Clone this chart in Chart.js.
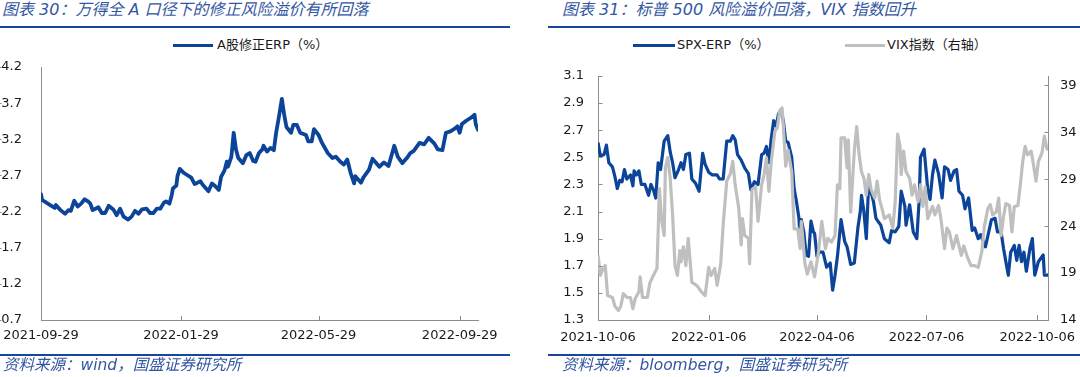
<!DOCTYPE html>
<html><head><meta charset="utf-8">
<script src="https://cdn.jsdelivr.net/npm/chart.js@4.4.0/dist/chart.umd.min.js"></script>
<style>
html,body{margin:0;padding:0;background:#fff;}
body{width:1080px;height:377px;position:relative;overflow:hidden;font-family:"DejaVu Sans","Noto Sans CJK SC",sans-serif;}
.title{position:absolute;top:0px;line-height:20px;font-style:italic;color:#3356A2;font-size:16px;white-space:nowrap;font-family:"DejaVu Sans","Noto Sans CJK SC",sans-serif;}
.rule{position:absolute;height:2px;background:#16479A;}
.src{position:absolute;top:356px;line-height:19px;font-style:italic;color:#3356A2;font-size:15.5px;white-space:nowrap;}
.leg{position:absolute;top:37px;height:16px;line-height:16px;font-size:13px;color:#1a1a1a;white-space:nowrap;}
.sw{position:absolute;height:3px;top:44px;}
canvas{position:absolute;top:0;}
</style>
</head><body>
<div class="title" style="left:2px">图表 30：万得全 A 口径下的修正风险溢价有所回落</div>
<div class="title" style="left:562px">图表 31：标普 500 风险溢价回落，VIX 指数回升</div>
<div class="rule" style="left:0;width:510px;top:26px"></div>
<div class="rule" style="left:548px;width:532px;top:26px"></div>

<div class="sw" style="left:173px;width:40px;background:#0B4499"></div>
<div class="leg" style="left:217px">A股修正ERP（%）</div>
<div class="sw" style="left:633px;width:42px;background:#0B4499"></div>
<div class="leg" style="left:677px">SPX-ERP（%）</div>
<div class="sw" style="left:845px;width:40px;background:#BFBFBF"></div>
<div class="leg" style="left:887px">VIX指数（右轴）</div>

<canvas id="cL" width="510" height="377" style="left:0;width:510px;height:377px"></canvas>
<canvas id="cR" width="540" height="377" style="left:540px;width:540px;height:377px"></canvas>

<div class="rule" style="left:0;width:510px;top:354px"></div>
<div class="rule" style="left:548px;width:532px;top:354px"></div>
<div class="src" style="left:3px">资料来源：wind，国盛证券研究所</div>
<div class="src" style="left:562px">资料来源：bloomberg，国盛证券研究所</div>

<script>
// ---------- Left chart data: A-share adjusted ERP (%) ----------
const aShareStart = '2021-09-29';
const aShareDays = [0,1,4,8,12,13,17,21,24,26,29,32,35,38,41,43,45,50,53,56,59,63,66,69,72,76,79,82,85,88,92,95,98,101,104,107,109,112,114,115,118,119,121,125,131,134,139,141,146,149,152,155,157,160,162,163,166,168,170,172,176,179,182,185,187,190,193,194,197,200,203,205,207,210,212,214,218,220,223,226,231,233,236,238,242,245,250,254,257,261,264,267,270,273,274,279,281,286,289,295,299,303,308,311,315,319,322,325,330,334,338,343,346,350,353,357,361,363,365,367,371,375,378,379,381];
const aShareERP = [2.44,2.36,2.33,2.29,2.25,2.29,2.22,2.17,2.22,2.21,2.35,2.27,2.31,2.37,2.34,2.31,2.22,2.26,2.18,2.18,2.28,2.23,2.15,2.24,2.13,2.09,2.13,2.21,2.17,2.23,2.24,2.18,2.18,2.24,2.24,2.32,2.34,2.31,2.43,2.52,2.56,2.69,2.79,2.73,2.67,2.58,2.62,2.57,2.48,2.59,2.55,2.50,2.68,2.77,2.89,2.82,2.96,3.29,3.06,2.94,2.87,2.98,3.01,2.90,2.89,3.01,3.06,3.11,3.03,3.08,3.05,3.29,3.47,3.76,3.54,3.37,3.29,3.40,3.40,3.29,3.26,3.17,3.17,3.34,3.26,3.15,3.01,2.94,2.96,2.89,2.85,2.92,2.73,2.59,2.69,2.60,2.67,2.78,2.93,2.82,2.88,2.83,3.11,2.96,2.87,2.94,3.01,3.04,3.15,3.13,3.22,3.14,3.06,3.05,3.29,3.31,3.35,3.38,3.29,3.41,3.46,3.50,3.54,3.41,3.33];
const aShareEndDay = 381;
const leftXTickDates = ['2021-09-29','2022-01-29','2022-05-29','2022-09-29'];
const leftYTicks = [0.7,1.2,1.7,2.2,2.7,3.2,3.7,4.2];

// ---------- Right chart data: SPX ERP (%) and VIX ----------
const spxStart = '2021-10-06';
const spxDays = [0,2,5,7,9,12,14,16,18,20,22,24,27,29,30,32,34,36,39,42,44,46,48,50,52,55,58,60,62,64,67,69,71,73,76,78,81,84,87,89,92,95,99,101,104,107,110,112,114,116,119,122,125,127,130,133,136,138,140,142,144,146,148,150,152,154,156,158,161,163,165,167,168,169,171,173,175,177,179,180,182,184,187,190,193,195,197,199,202,205,207,210,213,216,218,219,221,223,225,229,231,235,238,242,244,247,250,252,255,256,259,262,265,267,268,271,274,276,278,280,283,286,288,291,293,296,298,300,303,305,308,311,313,316,318,322,327,330,332,335,337,341,343,346,348,350,352,354,356,359,361,363,366,370,371,374];
const spxERP = [2.61,2.51,2.52,2.59,2.46,2.43,2.36,2.27,2.33,2.32,2.41,2.34,2.37,2.29,2.40,2.37,2.40,2.30,2.30,2.22,2.30,2.26,2.20,2.46,2.41,2.62,2.66,2.54,2.46,2.35,2.41,2.46,2.41,2.52,2.53,2.34,2.31,2.25,2.53,2.45,2.39,2.37,2.37,2.34,2.34,2.62,2.62,2.66,2.63,2.52,2.48,2.42,2.38,2.26,2.32,2.30,2.52,2.53,2.58,2.46,2.64,2.77,2.73,2.82,2.85,2.77,2.62,2.61,2.50,2.27,2.17,2.05,1.90,2.04,1.95,1.78,1.77,2.03,1.95,1.94,1.77,1.80,1.80,1.69,1.72,1.52,1.63,1.77,2.04,1.88,1.84,1.71,1.72,1.98,2.10,2.22,2.10,1.90,2.32,2.17,2.05,2.00,1.90,1.87,1.96,1.95,1.99,2.25,2.14,2.00,2.15,1.95,1.90,2.20,2.50,2.56,2.27,2.19,2.37,2.48,2.38,2.20,2.43,2.41,2.33,2.40,2.41,2.25,2.22,2.12,2.20,1.96,1.98,1.90,1.93,1.84,2.04,2.05,1.95,1.95,1.83,1.63,1.80,1.85,1.74,1.85,1.73,1.80,1.66,1.83,1.90,1.63,1.73,1.78,1.63,1.63];
const vixDays = [0,2,4,6,8,12,14,17,19,21,24,27,29,31,34,35,37,41,43,46,49,50,51,53,55,56,58,60,62,64,66,68,69,71,73,75,78,82,86,89,92,94,97,99,102,104,107,110,112,114,117,119,120,122,125,126,128,131,133,136,138,140,142,144,147,149,151,153,154,156,158,161,163,166,168,169,172,174,177,180,183,186,189,191,194,197,199,201,202,205,207,208,210,213,215,217,219,221,223,225,227,230,232,234,236,238,242,245,247,249,251,252,254,256,259,261,263,266,268,270,272,274,278,280,283,285,288,290,292,295,298,300,302,304,307,310,313,316,319,321,324,326,328,331,333,335,337,339,342,344,346,349,351,353,355,357,360,362,364,366,369,371,373,374];
const vixIndex = [20.9,18.75,19.5,19.8,16.6,16.4,15.5,15.0,15.5,16.8,16.4,16.4,15.2,16.3,17.0,18.6,16.4,16.4,17.9,18.75,19.5,23.4,28.0,24.5,23.0,30.2,31.3,29.1,25.2,19.8,18.75,21.4,20.2,21.8,19.8,22.7,18.0,17.7,17.0,16.6,19.6,18.75,19.5,17.7,20.0,24.1,28.8,29.6,30.9,28.4,25.9,22.0,24.8,23.0,22.7,20.0,27.9,28.2,24.5,28.4,29.5,31.3,27.7,30.9,34.1,34.5,36.3,36.6,34.8,30.4,32.1,29.8,23.7,23.7,21.6,24.5,20.0,18.9,20.2,18.6,21.0,24.5,21.6,22.7,22.3,23.0,28.4,28.0,33.4,33.4,30.2,33.2,25.5,32.0,34.6,31.6,29.8,29.1,27.3,29.5,27.9,27.0,28.8,26.8,25.9,24.8,25.2,23.8,26.6,33.8,32.5,29.5,32.0,29.8,29.1,27.3,28.4,26.6,28.4,26.1,28.2,24.8,26.1,25.2,26.2,24.8,21.6,23.8,23.4,21.6,23.0,21.9,20.9,21.9,20.7,19.8,19.8,19.6,21.3,23.9,25.9,26.3,25.2,25.5,27.0,23.0,25.0,26.4,26.2,23.4,26.1,26.2,28.4,30.9,32.5,31.6,32.0,30.5,28.8,30.9,31.8,33.6,32.3,32.1];
const spxEndDay = 374;
const rightXTickDates = ['2021-10-06','2022-01-06','2022-04-06','2022-07-06','2022-10-06'];
const spxYTicks = [1.3,1.5,1.7,1.9,2.1,2.3,2.5,2.7,2.9,3.1];
const vixYTicks = [14,19,24,29,34,39];
const vixAxisMax = 40;

// ---------- helpers ----------
const BLUE = '#0B4499', GREY = '#BFBFBF', AXIS = '#8C8C8C', TXT = '#1a1a1a';
const FONT = {family: '"DejaVu Sans","Noto Sans CJK SC",sans-serif', size: 13};
function dayOffset(start, d) {
  const p = s => { const a = s.split('-').map(Number); return Date.UTC(a[0], a[1]-1, a[2]); };
  return Math.round((p(d) - p(start)) / 864e5);
}
function pts(days, vals) { return days.map((d, i) => ({x: d, y: vals[i]})); }

const tickMarks = {
  id: 'tickMarks',
  afterDraw(chart, args, opts) {
    const ctx = chart.ctx;
    ctx.save();
    ctx.strokeStyle = AXIS; ctx.lineWidth = 1;
    (opts.items || []).forEach(it => {
      const s = chart.scales[it.id];
      s.ticks.forEach(t => {
        const p = Math.round(s.getPixelForValue(t.value)) + 0.5;
        ctx.beginPath();
        if (it.edge === 'bottom') { ctx.moveTo(p, s.top); ctx.lineTo(p, s.top - it.len); }
        else if (it.edge === 'left') { const x = Math.round(s.right) + 0.5; ctx.moveTo(x, p); ctx.lineTo(x + it.len, p); }
        else { const x = Math.round(s.left) + 0.5; ctx.moveTo(x, p); ctx.lineTo(x - it.len, p); }
        ctx.stroke();
      });
    });
    ctx.restore();
  }
};

function xScale(start, tickDates, maxDay, pad) {
  const tickDays = tickDates.map(d => dayOffset(start, d));
  return {
    type: 'linear', min: 0, max: maxDay,
    afterBuildTicks: s => { s.ticks = tickDays.map(v => ({value: v})); },
    afterFit: s => { s.height = 30; s.paddingLeft = 0; s.paddingRight = 0; },
    ticks: {autoSkip: false, maxRotation: 0, padding: pad, color: TXT, font: FONT,
      callback: v => tickDates[tickDays.indexOf(v)]},
    grid: {display: false, drawTicks: false},
    border: {display: true, color: AXIS, width: 1}
  };
}
function yScale(pos, tickVals, min, max, width, pad, dec) {
  return {
    type: 'linear', position: pos, min: min, max: max,
    afterBuildTicks: s => { s.ticks = tickVals.map(v => ({value: v})); },
    afterFit: s => { s.width = width; s.paddingTop = 0; s.paddingBottom = 0; },
    ticks: {padding: pad, color: TXT, font: FONT, callback: v => v.toFixed(dec)},
    grid: {display: false, drawTicks: false},
    border: {display: true, color: AXIS, width: 1}
  };
}

new Chart(document.getElementById('cL'), {
  type: 'line',
  data: {datasets: [{label: 'A股修正ERP（%）', data: pts(aShareDays, aShareERP), borderColor: BLUE, borderWidth: 3.8,
    pointRadius: 0, tension: 0, fill: false, borderJoinStyle: 'round', borderCapStyle: 'round'}]},
  options: {
    responsive: false, animation: false, events: [],
    layout: {padding: {left: 1, right: 32, top: 67, bottom: 27}},
    plugins: {legend: {display: false}, tooltip: {enabled: false},
      tickMarks: {items: [{id: 'x', edge: 'bottom', len: 4}, {id: 'y', edge: 'right', len: 4}]}},
    scales: {
      x: xScale(aShareStart, leftXTickDates, aShareEndDay, 8),
      y: yScale('left', leftYTicks, 0.7, 4.2, 40, 19, 1)
    }
  },
  plugins: [tickMarks]
});

new Chart(document.getElementById('cR'), {
  type: 'line',
  data: {datasets: [
    {label: 'SPX-ERP（%）', data: pts(spxDays, spxERP), yAxisID: 'y', borderColor: BLUE, borderWidth: 3.2,
      pointRadius: 0, tension: 0, fill: false, order: 1, borderJoinStyle: 'round'},
    {label: 'VIX指数（右轴）', data: pts(vixDays, vixIndex), yAxisID: 'y2', borderColor: GREY, borderWidth: 3.2,
      pointRadius: 0, tension: 0, fill: false, order: 0, borderJoinStyle: 'round'}
  ]},
  options: {
    responsive: false, animation: false, events: [],
    layout: {padding: {left: 18, right: 0, top: 76, bottom: 27}},
    plugins: {legend: {display: false}, tooltip: {enabled: false},
      tickMarks: {items: [{id: 'x', edge: 'bottom', len: 5}, {id: 'y', edge: 'left', len: 4}, {id: 'y2', edge: 'right', len: 4}]}},
    scales: {
      x: xScale(spxStart, rightXTickDates, spxEndDay, 10),
      y: yScale('left', spxYTicks, 1.3, 3.1, 40, 14, 1),
      y2: yScale('right', vixYTicks, 14, vixAxisMax, 32, 12, 0)
    }
  },
  plugins: [tickMarks]
});
</script>
</body></html>
